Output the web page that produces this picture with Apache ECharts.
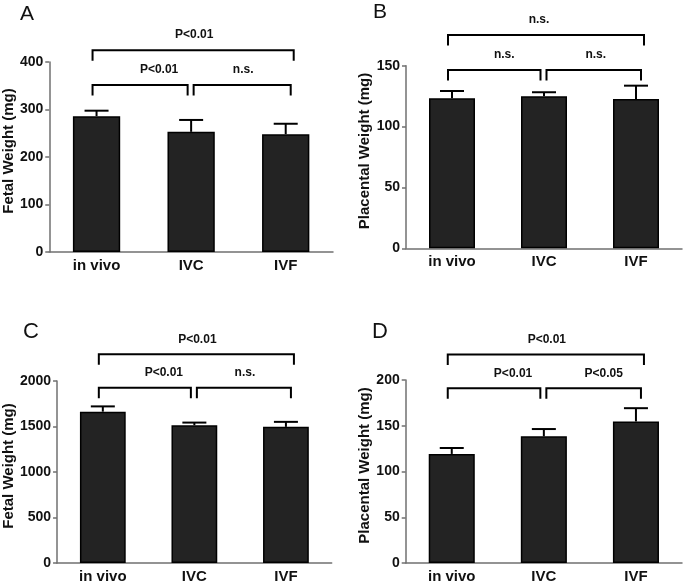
<!DOCTYPE html>
<html><head><meta charset="utf-8">
<script src="https://cdn.jsdelivr.net/npm/echarts@6/dist/echarts.min.js"></script>
<style>html,body{margin:0;padding:0;background:#fff}#c{width:685px;height:584px}</style>
</head><body><div id="c"></div>
<script>
// ---- data ----
const categories = ['in vivo', 'IVC', 'IVF'];
const panelLetters = ['A', 'B', 'C', 'D'];
const axisNames = ['Fetal Weight (mg)', 'Placental Weight (mg)', 'Fetal Weight (mg)', 'Placental Weight (mg)'];
const aMean = [286, 253, 248];
const aErr = [11.5, 25, 22];
const bMean = [123.2, 124.9, 122.7];
const bErr = [6, 3.3, 10.9];
const cMean = [1663, 1514, 1496];
const cErr = [58, 29, 55];
const dMean = [119.2, 138.4, 154.7];
const dErr = [6.5, 8, 14.5];
const yMax = [400, 150, 2000, 200];
const yInterval = [100, 50, 500, 50];
// brackets: [fromCategory, toCategory, heightValue, label]
const aBrackets = [[0, 2, 425, 'P<0.01'], [0, 1, 351.6, 'P<0.01'], [1, 2, 351.6, 'n.s.']];
const bBrackets = [[0, 2, 175.3, 'n.s.'], [0, 1, 146.5, 'n.s.'], [1, 2, 146.5, 'n.s.']];
const cBrackets = [[0, 2, 2293, 'P<0.01'], [0, 1, 1927, 'P<0.01'], [1, 2, 1927, 'n.s.']];
const dBrackets = [[0, 2, 228, 'P<0.01'], [0, 1, 191, 'P<0.01'], [1, 2, 191, 'P<0.05']];

// ---- layout / style (not data) ----
const FONT = 'Liberation Sans, Arial, sans-serif';
const grids = [
  {left: 46, right: 352, top: 62, bottom: 332},
  {left: 406, right: 3, top: 65.7, bottom: 335.7},
  {left: 54.3, right: 353.3, top: 381, bottom: 19},
  {left: 405.7, right: 3, top: 380, bottom: 20}
];
const nameGaps = [30, 29, 37, 29];
const labelShift = [[1, 19, 1], [-7, 10, 2], [1, 19, 1], [1, 19, 10]];
const letterPos = [[20, 14, 21], [373, 12.5, 21], [23, 331.5, 22], [372, 332, 22]];

const means = [aMean, bMean, cMean, dMean];
const errs = [aErr, bErr, cErr, dErr];
const brackets = [aBrackets, bBrackets, cBrackets, dBrackets];

const axisColor = '#707070';

function errRender(params, api) {
  const x = api.value(0), m = api.value(1), e = api.value(2);
  const pb = api.coord([x, m]), pt = api.coord([x, m + e]);
  return {type: 'group', children: [
    {type: 'line', shape: {x1: pb[0], y1: pb[1], x2: pt[0], y2: pt[1]}, style: {stroke: '#000', lineWidth: 2}},
    {type: 'line', shape: {x1: pt[0] - 12, y1: pt[1], x2: pt[0] + 12, y2: pt[1]}, style: {stroke: '#000', lineWidth: 2}}
  ]};
}

function bracketRender(list, shifts) {
  return function (params, api) {
    const i0 = api.value(0), i1 = api.value(1), y = api.value(2);
    const idx = params.dataIndex;
    const isTop = (i0 === 0 && i1 === 2);
    const p0 = api.coord([i0, y]), p1 = api.coord([i1, y]);
    const dx0 = isTop ? -4 : (i0 === 0 ? -4 : 2.5);
    const dx1 = isTop ? 8 : (i1 === 1 ? -3.5 : 5);
    const x0 = p0[0] + dx0, x1 = p1[0] + dx1, yy = p0[1];
    return {type: 'group', children: [
      {type: 'polyline', shape: {points: [[x0, yy + 10.5], [x0, yy], [x1, yy], [x1, yy + 10.5]]},
        style: {stroke: '#000', lineWidth: 2, fill: null}},
      {type: 'text', x: (x0 + x1) / 2 + shifts[idx], y: yy - 15,
        style: {text: list[idx][3], fill: '#111', font: 'bold 12px ' + FONT, align: 'center', verticalAlign: 'middle'}}
    ]};
  };
}

const xAxes = [], yAxes = [], series = [];
for (let k = 0; k < 4; k++) {
  xAxes.push({
    type: 'category', gridIndex: k, data: categories,
    axisLine: {show: true, lineStyle: {color: axisColor, width: 1.5}},
    axisTick: {show: false},
    axisLabel: {color: '#111', fontFamily: FONT, fontWeight: 'bold', fontSize: 15, margin: 6}
  });
  yAxes.push({
    type: 'value', gridIndex: k, min: 0, max: yMax[k], interval: yInterval[k],
    axisLine: {show: true, lineStyle: {color: axisColor, width: 1.5}},
    axisTick: {show: true, length: 4, lineStyle: {color: axisColor, width: 1.5}},
    splitLine: {show: false},
    axisLabel: {color: '#111', fontFamily: FONT, fontWeight: 'bold', fontSize: 14, margin: 6,
      formatter: v => String(v)},
    name: axisNames[k], nameLocation: 'middle', nameGap: nameGaps[k],
    nameTextStyle: {color: '#111', fontFamily: FONT, fontWeight: 'bold', fontSize: 15, padding: [0, 0, 0, 12]}
  });
  series.push({
    type: 'bar', xAxisIndex: k, yAxisIndex: k, data: means[k], barWidth: '50%',
    itemStyle: {color: '#232323', borderColor: '#000', borderWidth: 1.5}, z: 3
  });
  series.push({
    type: 'custom', xAxisIndex: k, yAxisIndex: k, z: 2,
    data: categories.map((c, i) => [i, means[k][i], errs[k][i]]),
    encode: {x: 0, y: 1},
    renderItem: errRender
  });
  series.push({
    type: 'custom', xAxisIndex: k, yAxisIndex: k, z: 4, clip: false,
    data: brackets[k].map(b => [b[0], b[1], b[2]]),
    encode: {x: 0, y: 2},
    renderItem: bracketRender(brackets[k], labelShift[k])
  });
}

const chart = echarts.init(document.getElementById('c'), null, {renderer: 'canvas'});
chart.setOption({
  animation: false,
  backgroundColor: '#fff',
  grid: grids,
  xAxis: xAxes,
  yAxis: yAxes,
  series: series,
  graphic: panelLetters.map((L, k) => ({
    type: 'text', x: letterPos[k][0], y: letterPos[k][1],
    style: {text: L, fill: '#111', font: letterPos[k][2] + 'px ' + FONT, align: 'left', verticalAlign: 'middle'}
  }))
});
</script>
</body></html>
